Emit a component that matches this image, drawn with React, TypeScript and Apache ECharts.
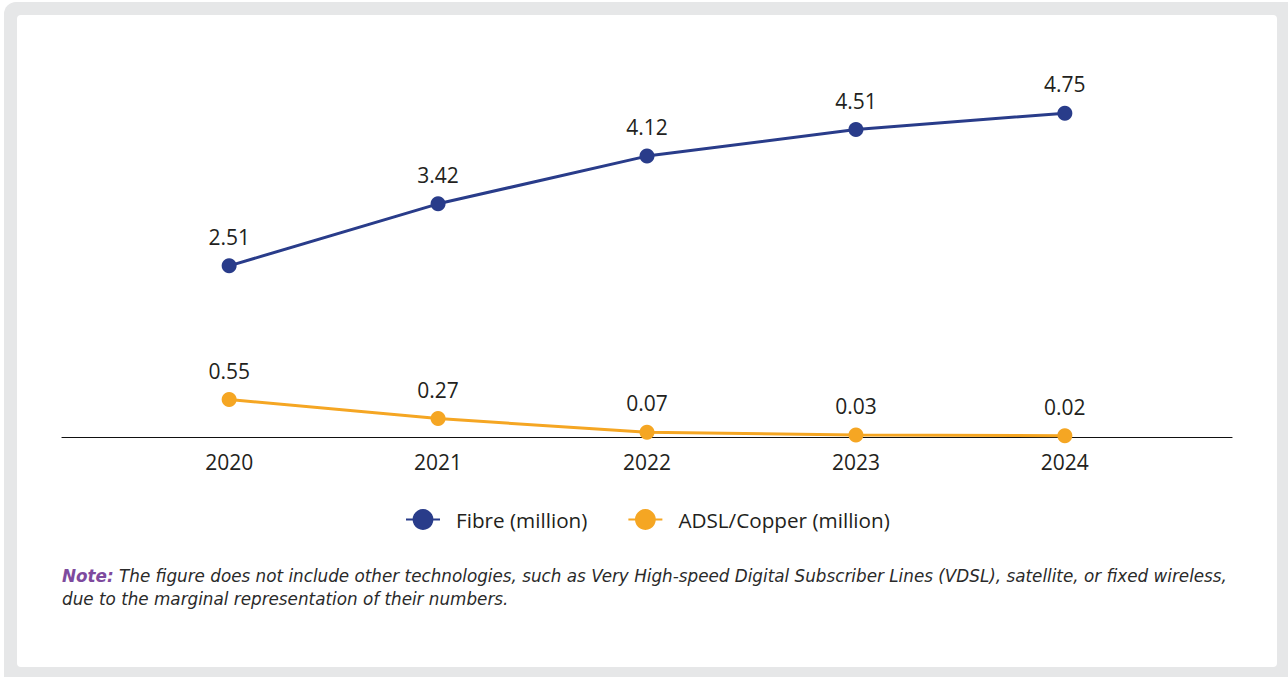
import React, { useEffect, useRef } from "react";
import * as echarts from "echarts";

// Connections by technology, in millions
const years = ["2020", "2021", "2022", "2023", "2024"];
const fibre = [2.51, 3.42, 4.12, 4.51, 4.75];
const copper = [0.55, 0.27, 0.07, 0.03, 0.02];

const FONT = "'Open Sans', sans-serif";
const NOTE_FONT = "'DejaVu Sans', sans-serif";
const INK = "#231f20";
const NAVY = "#293c8a";
const ORANGE = "#f5a623";

export default function App() {
  const ref = useRef<HTMLDivElement>(null);

  useEffect(() => {
    if (!ref.current) return;
    const chart = echarts.init(ref.current, undefined, { renderer: "svg" });
    const yearNums = years.map(Number);
    const toPoints = (vals: number[]) => vals.map((v, i) => [yearNums[i], v]);

    const labelStyle = {
      show: true,
      position: "top" as const,
      distance: 11,
      fontFamily: FONT,
      fontSize: 21,
      color: INK,
    };

    chart.setOption({
      animation: false,
      backgroundColor: "#ffffff",
      textStyle: { fontFamily: FONT },
      grid: { left: 62, right: 56, top: 62, bottom: 240 },
      xAxis: {
        type: "value",
        min: 2019.2,
        max: 2024.8,
        splitLine: { show: false },
        axisLine: { show: true, onZero: true, lineStyle: { color: "#111", width: 1.2 } },
        axisTick: { show: false },
        axisLabel: {
          customValues: yearNums,
          formatter: (v: number) => String(Math.round(v)),
          fontFamily: FONT,
          fontSize: 21,
          color: INK,
          margin: 14,
        },
      },
      yAxis: {
        type: "value",
        min: 0,
        max: 5.5,
        show: false,
        splitLine: { show: false },
      },
      legend: {
        left: 400,
        top: 504,
        itemWidth: 34,
        itemHeight: 26,
        itemGap: 40,
        textStyle: { fontFamily: FONT, fontSize: 20.7, color: INK, padding: [0, 0, 0, 11] },
        data: ["Fibre (million)", "ADSL/Copper (million)"],
      },
      graphic: [
        {
          type: "rect",
          z: -10,
          silent: true,
          shape: { x: 4, y: 2, width: 1320, height: 700, r: 12 },
          style: { fill: "#e6e7e8" },
        },
        {
          type: "rect",
          z: -9,
          silent: true,
          shape: { x: 17, y: 15, width: 1260, height: 652, r: 4 },
          style: { fill: "#ffffff" },
        },
        {
          type: "text",
          left: 62,
          top: 564,
          style: {
            text:
              "{b|Note:} The figure does not include other technologies, such as Very High-speed Digital Subscriber Lines (VDSL), satellite, or fixed wireless,\ndue to the marginal representation of their numbers.",
            fontFamily: NOTE_FONT,
            fontSize: 16.8,
            fontStyle: "italic",
            fill: "#2a2a2a",
            lineHeight: 23,
            rich: {
              b: {
                fontFamily: NOTE_FONT,
                fontSize: 16.8,
                fontStyle: "italic",
                fontWeight: "bold",
                fill: "#7e4a9e",
                lineHeight: 23,
              },
            },
          },
        },
      ],
      series: [
        {
          name: "Fibre (million)",
          type: "line",
          data: toPoints(fibre),
          symbol: "circle",
          symbolSize: 15,
          itemStyle: { color: NAVY },
          lineStyle: { color: NAVY, width: 3 },
          label: labelStyle,
        },
        {
          name: "ADSL/Copper (million)",
          type: "line",
          data: toPoints(copper),
          symbol: "circle",
          symbolSize: 15,
          itemStyle: { color: ORANGE },
          lineStyle: { color: ORANGE, width: 3 },
          label: labelStyle,
        },
      ],
    });
    return () => chart.dispose();
  }, []);

  return (
    <div
      style={{ position: "fixed", left: 0, top: 0, width: 1288, height: 677, background: "#fff" }}
    >
      <div ref={ref} style={{ width: 1288, height: 677 }} />
    </div>
  );
}
